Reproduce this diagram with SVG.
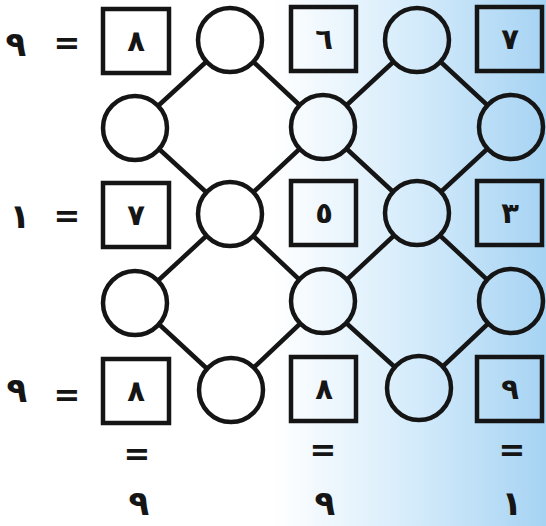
<svg xmlns="http://www.w3.org/2000/svg" width="546" height="526" viewBox="0 0 546 526">
<defs>
<linearGradient id="bg" x1="0" y1="0" x2="546" y2="0" gradientUnits="userSpaceOnUse">
<stop offset="0" stop-color="#ffffff"/>
<stop offset="0.5" stop-color="#ffffff"/>
<stop offset="0.75" stop-color="#d6ecfb"/>
<stop offset="1" stop-color="#a6d3f3"/>
</linearGradient>
<style>
.sq{fill:none;stroke:#151515;stroke-width:4.5}
.ci{fill:url(#bg);stroke:#151515;stroke-width:4.5}
.ln{stroke:#151515;stroke-width:4.5;stroke-linecap:round}
.d{font-family:"DejaVu Sans",sans-serif;font-weight:bold;font-size:29px;fill:#151515;text-anchor:middle}
.e{font-family:"DejaVu Sans",sans-serif;font-weight:bold;font-size:32px;fill:#151515;text-anchor:middle}
.l{font-family:"DejaVu Sans",sans-serif;font-weight:bold;font-size:34px;fill:#151515;text-anchor:middle}
</style>
</defs>
<rect width="546" height="526" fill="url(#bg)"/>
<g id="connectors">
<line class="ln" x1="230" y1="40" x2="135" y2="127"/>
<line class="ln" x1="230" y1="40" x2="323" y2="127"/>
<line class="ln" x1="417" y1="40" x2="323" y2="127"/>
<line class="ln" x1="417" y1="40" x2="511" y2="127"/>
<line class="ln" x1="135" y1="127" x2="230" y2="214"/>
<line class="ln" x1="323" y1="127" x2="230" y2="214"/>
<line class="ln" x1="323" y1="127" x2="417" y2="214"/>
<line class="ln" x1="511" y1="127" x2="417" y2="214"/>
<line class="ln" x1="230" y1="214" x2="135" y2="302"/>
<line class="ln" x1="230" y1="214" x2="323" y2="302"/>
<line class="ln" x1="417" y1="214" x2="323" y2="302"/>
<line class="ln" x1="417" y1="214" x2="511" y2="302"/>
<line class="ln" x1="135" y1="302" x2="230" y2="390"/>
<line class="ln" x1="323" y1="302" x2="230" y2="390"/>
<line class="ln" x1="323" y1="302" x2="419" y2="389"/>
<line class="ln" x1="511" y1="302" x2="419" y2="389"/>
</g>
<g id="circles">
<circle id="c01" class="ci" cx="230" cy="40" r="32"/>
<circle id="c03" class="ci" cx="417" cy="40" r="32"/>
<circle id="c10" class="ci" cx="135" cy="128" r="32"/>
<circle id="c12" class="ci" cx="323" cy="127" r="32"/>
<circle id="c14" class="ci" cx="511" cy="127" r="32"/>
<circle id="c21" class="ci" cx="230" cy="214" r="32"/>
<circle id="c23" class="ci" cx="417" cy="213" r="32"/>
<circle id="c30" class="ci" cx="135" cy="303" r="32"/>
<circle id="c32" class="ci" cx="323" cy="301" r="32"/>
<circle id="c34" class="ci" cx="511" cy="301" r="32"/>
<circle id="c41" class="ci" cx="231" cy="390" r="32"/>
<circle id="c43" class="ci" cx="419" cy="388" r="32"/>
</g>
<g id="sq00"><rect class="sq" x="103" y="9" width="66" height="64"/><text class="d" x="136" y="51">٨</text></g>
<g id="sq02"><rect class="sq" x="291" y="7" width="65" height="64"/><text class="d" x="324" y="49">٦</text></g>
<g id="sq04"><rect class="sq" x="477" y="7" width="65" height="64"/><text class="d" x="510" y="49">٧</text></g>
<g id="sq20"><rect class="sq" x="103" y="183" width="66" height="64"/><text class="d" x="136" y="225">٧</text></g>
<g id="sq22"><rect class="sq" x="291" y="181" width="65" height="64"/><text class="d" x="324" y="223">٥</text></g>
<g id="sq24"><rect class="sq" x="477" y="181" width="65" height="64"/><text class="d" x="510" y="223">٣</text></g>
<g id="sq40"><rect class="sq" x="103" y="359" width="66" height="64"/><text class="d" x="136" y="401">٨</text></g>
<g id="sq42"><rect class="sq" x="291" y="357" width="65" height="64"/><text class="d" x="324" y="399">٨</text></g>
<g id="sq44"><rect class="sq" x="477" y="357" width="65" height="64"/><text class="d" x="510" y="399">٩</text></g>
<g id="left-labels">
<text class="l" x="16" y="56">٩</text><text class="e" x="67" y="54">=</text>
<text class="l" x="20" y="228">١</text><text class="e" x="67" y="227">=</text>
<text class="l" x="17" y="402">٩</text><text class="e" x="67" y="406">=</text>
</g>
<g id="bottom-labels">
<text class="e" x="137" y="465">=</text>
<text class="e" x="323" y="461">=</text>
<text class="e" x="512" y="461">=</text>
<text class="l" x="139" y="515">٩</text>
<text class="l" x="325" y="515">٩</text>
<text class="l" x="512" y="515">١</text>
</g>
</svg>
